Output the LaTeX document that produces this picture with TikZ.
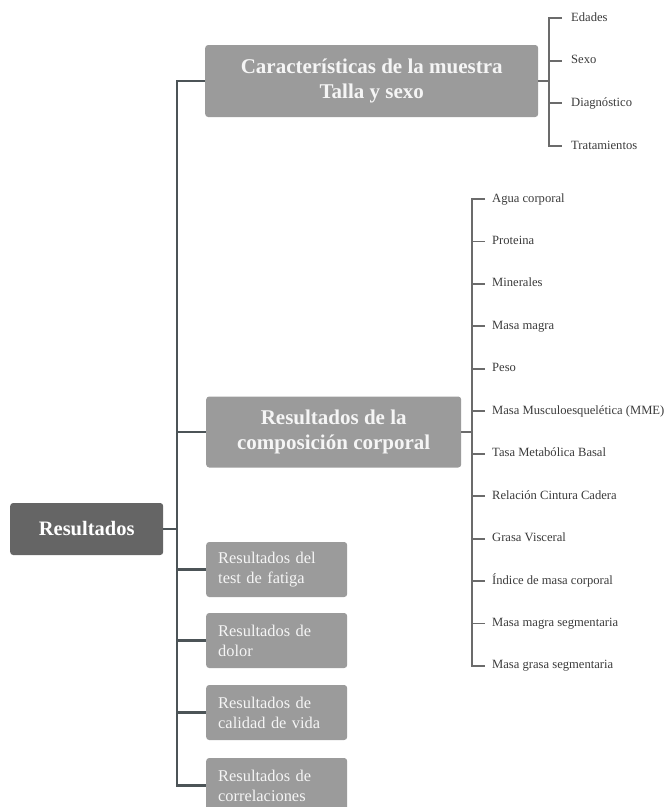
\documentclass[tikz,border=0pt]{standalone}
\usepackage{fontspec}
\setmainfont{Liberation Serif}
\definecolor{darkbox}{HTML}{656565}
\definecolor{midbox}{HTML}{9B9B9B}
\definecolor{trunkcol}{HTML}{4C5457}
\definecolor{tickcol}{HTML}{6B6B6B}
\definecolor{leafcol}{HTML}{3A3A3A}
\begin{document}
\begin{tikzpicture}[x=1pt,y=-1pt,
	rootbox/.style={fill=darkbox,text=white,rounded corners=3pt,font=\fontsize{20.5}{25}\selectfont\bfseries,anchor=west},
	bigbox/.style={fill=midbox,text=white!96!black,rounded corners=3pt,align=center,font=\fontsize{21}{25}\selectfont\bfseries,anchor=west},
	smallbox/.style={fill=midbox,text=white!96!black,rounded corners=3pt,align=left,text width=117pt,inner xsep=12pt,minimum height=55pt,font=\fontsize{16.4}{20}\selectfont,anchor=west},
	leaf/.style={text=leafcol,font=\fontsize{12.6}{15}\selectfont,text height=9pt,text depth=3pt,inner ysep=0pt,anchor=west},
	trunk/.style={trunkcol,line width=2.4pt},
	twig/.style={tickcol,line width=1.8pt}]
	\useasboundingbox (0,0) rectangle (668,807);
	\clip (0,0) rectangle (668,807);

	\node[rootbox,minimum width=153pt,minimum height=52pt] (res) at (10,529) {Resultados};
	\node[bigbox,minimum width=333pt,minimum height=72pt] (caract) at (205,81) {Características de la muestra\\Talla y sexo};
	\node[bigbox,minimum width=255pt,minimum height=71pt] (comp) at (206,432) {Resultados de la\\composición corporal};
	\node[smallbox] (fatiga) at (206,569.5) {Resultados del\\test de fatiga};
	\node[smallbox] (dolor) at (206,640.5) {Resultados de\\dolor};
	\node[smallbox] (calidad) at (206,712.5) {Resultados de\\calidad de vida};
	\node[smallbox] (corr) at (206,785.5) {Resultados de\\correlaciones};

	\coordinate (tr) at (177,529);
	\draw[trunk] (res.east) -- (tr);
	\draw[trunk] (caract.west) -- (tr |- caract.west) -- (tr |- corr.west) -- (corr.west);
	\foreach \n in {comp,fatiga,dolor,calidad}
		\draw[trunk] (tr |- \n.west) -- (\n.west);

	\coordinate (cbr) at (549,81);
	\foreach \t [count=\i] in {Edades,Sexo,Diagnóstico,Tratamientos}
		\node[leaf,inner xsep=9pt] (c\i) at (562,{18+42.67*(\i-1)}) {\t};
	\draw[twig] (caract.east) -- (cbr);
	\draw[twig] (c1.west) -- (cbr |- c1.west) -- (cbr |- c4.west) -- (c4.west);
	\foreach \i in {2,3}
		\draw[twig] (cbr |- c\i.west) -- (c\i.west);

	\coordinate (kbr) at (472,432);
	\foreach \t [count=\i] in {Agua corporal,Proteina,Minerales,Masa magra,Peso,Masa Musculoesquelética (MME),Tasa Metabólica Basal,Relación Cintura Cadera,Grasa Visceral,Índice de masa corporal,Masa magra segmentaria,Masa grasa segmentaria}
		\node[leaf,inner xsep=7pt] (k\i) at (485,{199+42.45*(\i-1)}) {\t};
	\draw[twig] (comp.east) -- (kbr);
	\draw[twig] (k1.west) -- (kbr |- k1.west) -- (kbr |- k12.west) -- (k12.west);
	\foreach \i in {2,...,11}
		\draw[twig] (kbr |- k\i.west) -- (k\i.west);
\end{tikzpicture}
\end{document}
